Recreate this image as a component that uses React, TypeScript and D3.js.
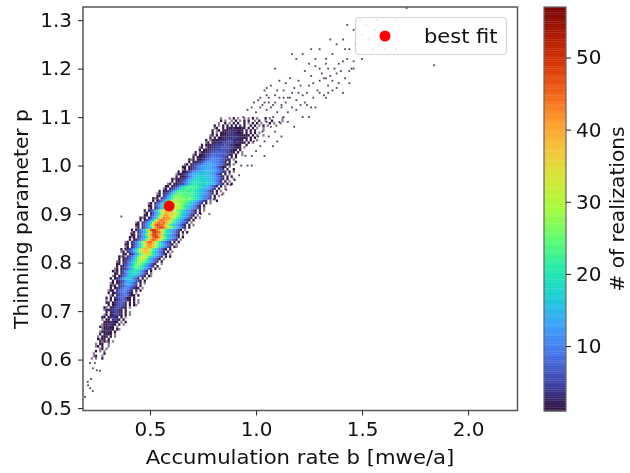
import { useRef, useEffect } from 'react';
import * as d3 from 'd3';

const xTicks = [0.5, 1.0, 1.5, 2.0];
const yTicks = [0.5, 0.6, 0.7, 0.8, 0.9, 1.0, 1.1, 1.2, 1.3];
const colorTicks = [10, 20, 30, 40, 50];
const turboStops = ['#30123b', '#4145ab', '#4675ed', '#39a2fc', '#1bcfd4', '#24eca6', '#61fc6c', '#a4fc3c', '#d1e834', '#f3c63a', '#fe9b2d', '#f36315', '#d93806', '#b11901', '#7a0403'];

// histogram, one row per p bin from p = 0.6 up
const binB = 0.01;
const binP = 0.005;
const firstB = 0.2;
const firstP = 0.6;
const rowStart = [
  2, 2, 3, 3, 4, 4, 4, 5, 5, 5, 5, 6, 6, 6, 7, 7, 7, 7, 8, 8, 8, 8, 9, 9, 9, 9,
  10, 10, 10, 10, 11, 11, 11, 11, 12, 12, 12, 13, 13, 14, 14, 14, 15, 16, 16, 16, 17, 18, 18, 19, 20, 20,
  21, 21, 22, 23, 23, 24, 25, 26, 27, 27, 28, 29, 29, 30, 31, 32, 33, 34, 35, 37, 38, 39, 40, 41, 42, 43,
  44, 45, 46, 47, 48, 49, 50, 51, 52, 53, 54, 55, 56, 57, 58, 58, 59, 59, 60, 61, 62, 63, 64, 65, 66, 68,
];
// each character is a base 36 level, count = level * 1.5; '.' is a single faint count
const rowLevels = [
  '. .  1', ' .1  .', '.    1', ' 1 . .', '  .1 .', '.1 1  .', '. 11  .', ' 1.1.1 .',
  '1.11 1', '. 111 1 .', ' 1 1111 .', '.11211 1', ' .11121 1.', '1.11211 .', '.112211 1 .', ' 1112211 . 1',
  '. 11 2321 1', '11 12321 1 .', '.1 123321 1 .', ' 1 123321 1 .', '.11234321 1', '1. 12343211 .', ' 1 1234432 1 1.', '11 1234432 1 1 .',
  '. 1 12345421 1 .', '1 1 23455311 1', ' .1 234565211 1', '1 1234566431 .', '.11 24567532 1 1', ' 1 123467764211 .', '1.1 234687642 1', '.1 1235899753 1 .',
  ' 1 123479aa8531 1', '1 12358abb9642 1 .', '.1 12469bcb97531 1.', ' 11 2358bcdca8642 .', '1.1 2469ceedb9642 1', '.1 12358bdgfec9753 1 .', ' 1 12469cfhgfca8642 1', '11 2358adhihfda8531  .',
  '.1 12469cfijigeb9642 1', ' 1 12358aeikljgc97531 .', '1.1 2469cglmljfca8642 1 1', ' 11 2358bfjmnlieb97531 .', '.1 2469cgkoppmhdb8642 1 .', '1 12358bfkoqpnjfc97531 1 ', ' .1 2469chlprqokgda8642 1.', '11 2358bgmqssqlhec97531 .',
  '.1 2469dinrutqnieb8642 1 1', ' 1 12368ciosvurojfc97532 .', '1.1 2479djpuxwsnjfca8642 1', ' 11 358bhnswxurngeb97531 .', '.1 2479ekqwzvuoiedb8642 1 1', '1 1358bhovyxurnjfca97531 .', ' .1 2479djrvwyuqmigdb8642 1', '11 358bhotxvusojfca97532 1 .',
  '.1 2479dkqtvsuqnjgdb97542 .', ' 1 1358bhosusrqmifdb97531 1', '1.1 2479diotrsqnkhecb8642 1 .', ' 11 358bgmqrqnpljgdba7531 .', '.1 2479djnqonpmkhfcb97542 1', '1 1358bglopnmnkigeca87531 1 .', ' .1 2479ejmnmnkljhfdb97642 .', '11 358bgjlmkmkjigecb97531 1',
  '.1 2469diklkljkihgfdb98643 1 .', ' 1 1358bfijkjihjhgfeca97532 .  1', '1.1 2469cfhjihihgigfdcb97643 1', ' 11 358behhihghfgfedcb98653 1 .', '.1 2347bdfghgfgfgedcba87642 1  .', '1 12346adfgfgfefedcba97532 1 .', ' .1 2346acefgfefedcba98642 1  .', '11 12358bdeffefedcba97532 1 .',
  '.1 1123468acdedcdcdcba97542 1 1', ' 1 112457abcdcdcbcba98642 1 .', '1.1123468abcdcbcbaa987642 1  .', ' 1 1123579abcbcbaa987532 1 1', '.11234689abbabaa987542 1 .', '1 112357899aaba99876532 1 .', ' .1 12346799a99887652 1  1', '11 123468998988764311 .',
  '.1 1234578889887654211 .', ' 1 1123467887776542 1  1', '1.1 1123456776654321 .', ' 1 112234566665432 1 1', '.1 1123345555544321 1  .', '1 .1122344555443321 1 .', ' 1 1122334444333211 1', '.1 .1122334444332211 .',
  '1 11122333343322111  1', ' .1 1122233333222111 1 .', '1 .111222233322211 1 1  .', ' 1 1 11222223322111 1 1', '.1 1 11122222211111 1 .  .', ' 1 . 11122222111 1 1 1 .', '1 .1 1112212111 1 1 1   .', ' .1  1 111211111 1 1 .  .',
  '1 . 1 1 1 1 2 1  1 1 . 1 .   .', ' .  1 . 1 1  1 . 1 1 .   1 .  .', ' 1 .  . 1 . 1 1  . 1  .  1    .', '.   . 1 .  . . 1 .   1 .     .',
];

// single realizations outside the dense band
const sparsePoints: [number, number][] = [
  [0.194, 0.523], [0.206, 0.554], [0.222, 0.56], [0.217, 0.541], [0.23, 0.535], [0.208, 0.547], [0.231, 0.582], [0.249, 0.578],
  [0.264, 0.577], [0.217, 0.593], [0.24, 0.593], [0.365, 0.895], [0.41, 0.86], [0.44, 0.88], [0.37, 0.78], [0.385, 0.81],
  [0.74, 0.9], [0.8, 0.93], [0.82, 0.96], [0.78, 0.9], [0.84, 0.94], [0.86, 0.95], [0.88, 0.96], [0.9, 0.97], [0.92, 0.98],
  [0.83, 0.99], [0.86, 1.01], [0.88, 1.03], [0.9, 1.05], [0.92, 1.07], [0.94, 1.1], [0.93, 1.0], [0.96, 1.0], [0.98, 1.0],
  [0.95, 1.02], [0.98, 1.02], [1.0, 1.03], [1.04, 1.02], [1.02, 1.04], [0.99, 1.05], [1.04, 1.05], [1.08, 1.04], [1.01, 1.06], [1.06, 1.06],
  [1.12, 1.06], [1.1, 1.05], [1.03, 1.07], [1.09, 1.07], [1.07, 1.08], [1.18, 1.08], [1.05, 1.09], [1.11, 1.09], [1.15, 1.09], [1.08, 1.1],
  [1.13, 1.1], [1.22, 1.1], [1.25, 1.1], [1.0, 1.11], [1.1, 1.11], [1.15, 1.11], [0.96, 1.115], [1.05, 1.115], [1.19, 1.115], [0.98, 1.12],
  [1.02, 1.12], [1.07, 1.12], [1.12, 1.12], [1.26, 1.12], [1.21, 1.125], [0.99, 1.13], [1.04, 1.13], [1.09, 1.13], [1.14, 1.13], [1.23, 1.13],
  [1.01, 1.135], [1.06, 1.14], [1.11, 1.14], [1.13, 1.14], [1.16, 1.14], [1.2, 1.15],
  [1.02, 1.14], [1.04, 1.155], [1.06, 1.13], [1.07, 1.165], [1.09, 1.145], [1.11, 1.175], [1.12, 1.125], [1.13, 1.155], [1.15, 1.14], [1.16, 1.18],
  [1.17, 1.12], [1.18, 1.16], [1.19, 1.135], [1.2, 1.175], [1.22, 1.145], [1.23, 1.195], [1.24, 1.125], [1.25, 1.165], [1.26, 1.185], [1.27, 1.14],
  [1.28, 1.205], [1.29, 1.155], [1.3, 1.175], [1.31, 1.19], [1.32, 1.145], [1.33, 1.21], [1.34, 1.165], [1.35, 1.185], [1.36, 1.155], [1.37, 1.2],
  [1.03, 1.125], [1.05, 1.145], [1.08, 1.125], [1.1, 1.155], [1.14, 1.17], [1.17, 1.15], [1.21, 1.165], [1.24, 1.15], [1.27, 1.17], [1.3, 1.15],
  [1.33, 1.18], [1.36, 1.175], [1.39, 1.17], [1.38, 1.19], [1.4, 1.195], [1.42, 1.18], [1.41, 1.215], [1.44, 1.195], [1.46, 1.215], [1.45, 1.2],
  [1.19, 1.22], [1.22, 1.23], [1.25, 1.21], [1.28, 1.22], [1.3, 1.2], [1.32, 1.18], [1.34, 1.2], [1.3, 1.24], [1.33, 1.22],
  [1.36, 1.23], [1.39, 1.21], [1.43, 1.22], [1.46, 1.2], [1.38, 1.25], [1.41, 1.26], [1.44, 1.24], [1.47, 1.25], [1.5, 1.22],
  [1.43, 1.29], [1.46, 1.28], [1.5, 1.27], [1.53, 1.26], [1.55, 1.24], [1.58, 1.25], [1.52, 1.29], [1.56, 1.28], [1.6, 1.27], [1.63, 1.26],
  [1.84, 1.207], [1.71, 1.325], [1.66, 1.3], [1.38, 1.16], [1.33, 1.14], [1.44, 1.17], [1.49, 1.3], [1.42, 1.24], [1.35, 1.26], [1.26, 1.24],
  [1.05, 1.16], [1.09, 1.2], [1.17, 1.23], [1.57, 1.3], [1.61, 1.24], [1.66, 1.24], [1.28, 1.12], [1.34, 1.15], [1.41, 1.15],
];

const bestFitB = [0.59];
const bestFitP = [0.9165];

const ChartApp = () => {
  const svgRef = useRef<SVGSVGElement>(null);

  useEffect(() => {
    const svg = d3.select(svgRef.current);
    svg.selectAll('*').remove();

    const font = 'DejaVu Sans';
    const xScale = d3.scaleLinear().domain([0.184, 2.233]).range([83, 517.5]);
    const yScale = d3.scaleLinear().domain([0.495, 1.327]).range([410.5, 7]);
    const cbarScale = d3.scaleLinear().domain([1, 57]).range([411, 7]);
    const turbo = d3.piecewise(d3.interpolateRgb, turboStops);
    const color = (v: number) => turbo(Math.min(1, Math.max(0, (v - 1) / 56)));

    const cells = rowLevels.flatMap((row, j) =>
      row.split('').flatMap((c, i) => (c === ' ' ? [] : [{
        b: firstB + (rowStart[j] + i) * binB,
        p: firstP + j * binP,
        count: c === '.' ? 1 : parseInt(c, 36) * 1.5,
        faint: c === '.',
      }])));

    const defs = svg.append('defs');
    defs.append('filter').attr('id', 'soft')
      .append('feGaussianBlur').attr('stdDeviation', 0.3);

    svg.append('rect').attr('x', 83).attr('y', 7).attr('width', 434.5).attr('height', 403.5).attr('fill', 'white');

    const hist = svg.append('g').attr('filter', 'url(#soft)');
    hist.append('g').selectAll('rect').data(sparsePoints).enter().append('rect')
      .attr('x', d => xScale(d[0]) - 0.9)
      .attr('y', d => yScale(d[1]) - 0.9)
      .attr('width', 1.8)
      .attr('height', 1.8)
      .attr('fill', '#30123b')
      .attr('opacity', 0.8);

    hist.append('g').selectAll('rect').data(cells).enter().append('rect')
      .attr('x', d => xScale(d.b))
      .attr('y', d => yScale(d.p + binP))
      .attr('width', xScale(firstB + binB) - xScale(firstB) + 0.1)
      .attr('height', yScale(firstP) - yScale(firstP + binP) + 0.1)
      .attr('fill', d => color(d.count))
      .attr('opacity', d => (d.faint ? 0.55 : 1));

    // best fit
    svg.append('circle').attr('cx', xScale(bestFitB[0])).attr('cy', yScale(bestFitP[0])).attr('r', 5.5).attr('fill', '#ff0000');

    // legend
    svg.append('rect').attr('x', 355.5).attr('y', 17.5).attr('width', 151).attr('height', 37).attr('rx', 3.5)
      .attr('fill', 'white').attr('fill-opacity', 0.85).attr('stroke', '#d5d5d5').attr('stroke-width', 1.2);
    svg.append('circle').attr('cx', 385).attr('cy', 36).attr('r', 5.5).attr('fill', '#ff0000');
    svg.append('text').attr('transform', 'translate(424,43) scale(1.05,1)').attr('font-family', font).attr('font-size', 20).attr('fill', '#111').text('best fit');

    // frame and axes
    svg.append('rect').attr('x', 83).attr('y', 7).attr('width', 434.5).attr('height', 403.5)
      .attr('fill', 'none').attr('stroke', '#555').attr('stroke-width', 1.5);

    const xAxis = svg.append('g').attr('transform', 'translate(0,410.5)')
      .call(d3.axisBottom(xScale).tickValues(xTicks).tickFormat(d3.format('.1f')).tickSize(5).tickPadding(6));
    const yAxis = svg.append('g').attr('transform', 'translate(83,0)')
      .call(d3.axisLeft(yScale).tickValues(yTicks).tickFormat(d3.format('.1f')).tickSize(5).tickPadding(6));

    // colorbar
    svg.append('g').selectAll('rect').data(d3.range(1, 57, 0.25)).enter().append('rect')
      .attr('x', 544)
      .attr('y', d => cbarScale(d + 0.25))
      .attr('width', 22)
      .attr('height', cbarScale(1) - cbarScale(1.25) + 0.3)
      .attr('fill', d => color(d + 0.125));
    svg.append('rect').attr('x', 544).attr('y', 7).attr('width', 22).attr('height', 404)
      .attr('fill', 'none').attr('stroke', '#666').attr('stroke-width', 1.2);
    const cAxis = svg.append('g').attr('transform', 'translate(566,0)')
      .call(d3.axisRight(cbarScale).tickValues(colorTicks).tickFormat(d3.format('d')).tickSize(5).tickPadding(5));

    [xAxis, yAxis, cAxis].forEach(axis => {
      axis.select('.domain').remove();
      axis.selectAll('line').attr('stroke', '#333').attr('stroke-width', 1.1);
      axis.selectAll('text').attr('font-family', font).attr('font-size', 20).attr('fill', '#111');
    });

    svg.append('text').attr('transform', 'translate(300,464) scale(1.06,1)').attr('text-anchor', 'middle')
      .attr('font-family', font).attr('font-size', 20).attr('fill', '#111').text('Accumulation rate b [mwe/a]');
    svg.append('text').attr('transform', 'translate(28,219) rotate(-90)').attr('text-anchor', 'middle')
      .attr('font-family', font).attr('font-size', 20.2).attr('fill', '#111').text('Thinning parameter p');
    svg.append('text').attr('transform', 'translate(624,209) rotate(-90)').attr('text-anchor', 'middle')
      .attr('font-family', font).attr('font-size', 20.2).attr('fill', '#111').text('# of realizations');
  }, []);

  return <svg ref={svgRef} width={630} height={473} style={{ position: 'absolute', left: 0, top: 0 }}></svg>;
};

export default ChartApp;
